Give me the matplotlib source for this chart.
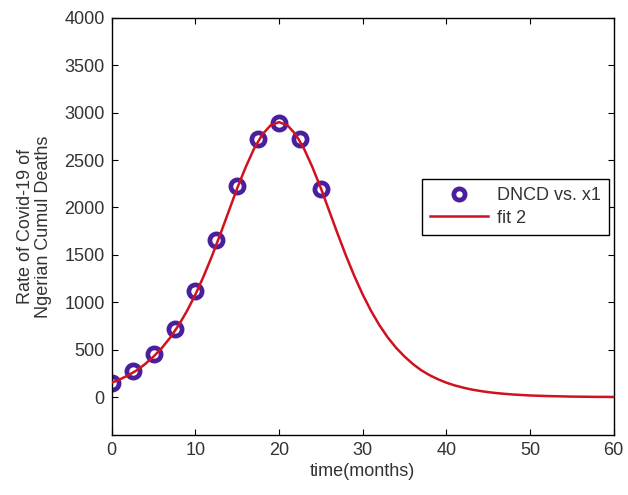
import matplotlib.pyplot as plt
import numpy as np

plt.rcParams['font.family'] = ['Liberation Sans', 'DejaVu Sans']

# data points (months, cumulative deaths rate)
x1 = [0, 2.5, 5, 7.5, 10, 12.5, 15, 17.5, 20, 22.5, 25]
dncd = [150, 275, 450, 715, 1120, 1655, 2230, 2720, 2895, 2720, 2200]

t_fit = list(range(0, 61))
fit2 = [153, 189, 232, 284, 350, 429, 520, 630, 759, 910,
        1083, 1278, 1493, 1724, 1964, 2204, 2423, 2618, 2770, 2867,
        2900, 2867, 2770, 2618, 2423, 2204, 1964, 1724, 1493, 1278,
        1083, 910, 759, 630, 520, 429, 350, 284, 232, 189,
        153, 124, 101, 81, 66, 53, 43, 35, 28, 23,
        18, 15, 12, 10, 8, 6, 5, 4, 3, 3, 2]

fs = 13
tc = '#333333'

fig = plt.figure(figsize=(6.28, 4.95), dpi=100)
ax = fig.add_axes([0.178, 0.121, 0.799, 0.843])

ax.plot(x1, dncd, 'o', ms=9.5, mfc='none', mec='#4a1f9e', mew=3.4,
        label='DNCD vs. x1', zorder=2)
ax.plot(t_fit, fit2, '-', color='#d0121e', lw=1.8, label='fit 2', zorder=3)

ax.set_xlim(0, 60)
ax.set_ylim(-400, 4000)
ax.set_xticks(np.arange(0, 61, 10))
ax.set_yticks(np.arange(0, 4001, 500))
ax.tick_params(direction='in', top=True, right=True, length=4,
               labelsize=fs, labelcolor=tc, pad=5)
for s in ax.spines.values():
    s.set_linewidth(1.0)

ax.set_xlabel('time(months)', fontsize=fs, color=tc, labelpad=3)
ax.set_ylabel('Rate of Covid-19 of\nNgerian Cumul Deaths', fontsize=fs,
              color=tc, labelpad=9, linespacing=1.1)

leg = ax.legend(loc='center', bbox_to_anchor=(0.805, 0.547), fancybox=False,
                edgecolor='black', framealpha=1, fontsize=fs, markerscale=0.85,
                handlelength=3.2, borderpad=0.45, labelspacing=0.3,
                handletextpad=0.5)
leg.get_frame().set_linewidth(1.0)
for txt in leg.get_texts():
    txt.set_color(tc)

plt.savefig('out.png', dpi=100)
